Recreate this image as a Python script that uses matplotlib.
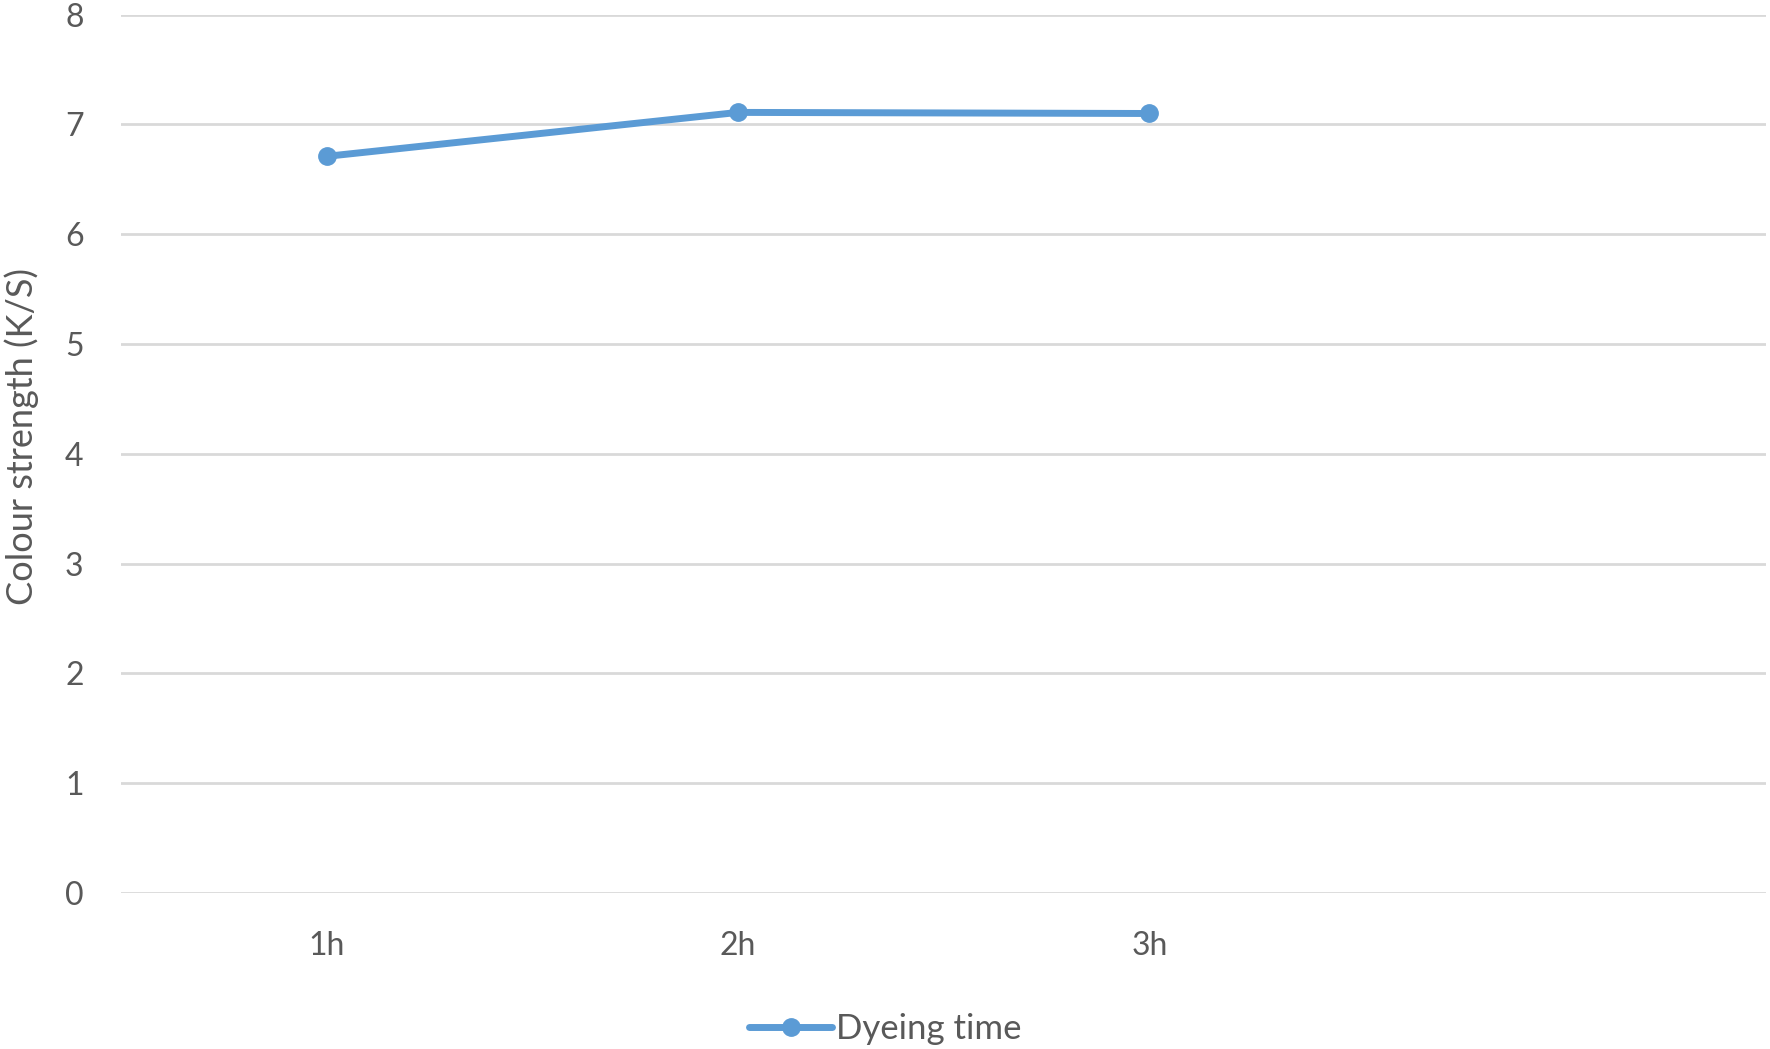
import matplotlib
matplotlib.use("Agg")
import matplotlib.pyplot as plt
import numpy as np

# Data
times = ["1h", "2h", "3h"]
colour_strength = [6.71, 7.11, 7.10]
y_ticks = [0, 1, 2, 3, 4, 5, 6, 7, 8]

blue = "#5B9BD5"
grey_text = "#595959"
grid_grey = "#D9D9D9"

plt.rcParams['font.family'] = ['Lato', 'DejaVu Sans']

fig = plt.figure(figsize=(17.7, 10.49), dpi=100)
ax = fig.add_axes([0.0684, 0.1487, 0.9296, 0.8373])

x = np.arange(len(times))
ax.plot(x, colour_strength, color=blue, linewidth=5, marker='o',
        markersize=12.5, label="Dyeing time", solid_capstyle='round')

# Excel-style: 4 category slots, only 3 filled
ax.set_xlim(-0.5, 3.5)
ax.set_ylim(0, 8)
ax.set_xticks(x)
ax.set_xticklabels(times)
ax.set_yticks(y_ticks)

for s in ax.spines.values():
    s.set_visible(False)
ax.yaxis.grid(True, color=grid_grey, linewidth=2)
ax.set_axisbelow(True)
ax.tick_params(axis='both', length=0, labelsize=23, labelcolor=grey_text)
ax.tick_params(axis='y', pad=27)
ax.tick_params(axis='x', pad=27)

ax.set_ylabel("Colour strength (K/S)", fontsize=26, color=grey_text)
ax.yaxis.set_label_coords(-0.05, 0.52)

leg = fig.legend(loc='center', bbox_to_anchor=(0.5, 0.019), frameon=False,
                 fontsize=25, handlelength=2.4, handletextpad=0.1)
for t in leg.get_texts():
    t.set_color(grey_text)

fig.savefig("out.png", dpi=100)
